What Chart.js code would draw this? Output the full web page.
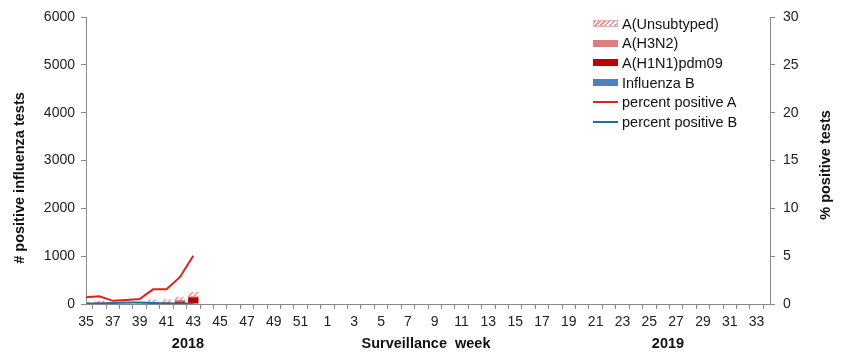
<!DOCTYPE html>
<html>
<head>
<meta charset="utf-8">
<script src="https://cdn.jsdelivr.net/npm/chart.js@4.4.1/dist/chart.umd.min.js"></script>
<style>
  html, body { margin: 0; padding: 0; background: #fff; }
  #wrap { position: relative; width: 849px; height: 362px; }
  #legend { position: absolute; left: 593px; top: 14px; font-family: "Liberation Sans", Arial, sans-serif; font-size: 14.5px; color: #111; }
  .row { height: 19.6px; display: flex; align-items: center; }
  .sw { width: 25px; margin-right: 4px; }
  .box { height: 7px; }
  .ln { height: 2px; }
</style>
</head>
<body>
<div id="wrap">
  <canvas id="myChart" width="849" height="362"></canvas>
  <div id="legend">
    <div class="row"><span class="sw box" style="background:repeating-linear-gradient(135deg,#e49a9a 0 1.5px,#fff 1.5px 3.5px);border:1px solid #e8b0b0;box-sizing:border-box"></span>A(Unsubtyped)</div>
    <div class="row"><span class="sw box" style="background:#e07c7c"></span>A(H3N2)</div>
    <div class="row"><span class="sw box" style="background:#c00000"></span>A(H1N1)pdm09</div>
    <div class="row"><span class="sw box" style="background:#4f81bd"></span>Influenza B</div>
    <div class="row"><span class="sw ln" style="background:#e0201c"></span>percent positive A</div>
    <div class="row"><span class="sw ln" style="background:#1f6ea6"></span>percent positive B</div>
  </div>
</div>
<script>
// weeks 35-52 of 2018, then 1-34 of 2019
let weeks = [];
for (let w = 35; w <= 52; w++) weeks.push(String(w));
for (let w = 1; w <= 34; w++) weeks.push(String(w));

// counts, weeks 35..43 (2018)
let fluB     = [10, 10, 10, 15, 15, 10, 10, 10, 10];
let h1n1     = [0, 0, 0, 0, 0, 5, 10, 40, 130];
let h3n2     = [15, 30, 15, 5, 5, 30, 25, 35, 20];
let unsub    = [25, 30, 15, 10, 10, 50, 50, 65, 90];
// percent positive
let pctA     = [0.7, 0.8, 0.33, 0.42, 0.52, 1.53, 1.53, 2.8, 5.05];
let pctB     = [0.05, 0.05, 0.1, 0.15, 0.15, 0.1, 0.05, 0.05, 0.05];

let leftTicks = [0, 1000, 2000, 3000, 4000, 5000, 6000];
let rightTicks = [0, 5, 10, 15, 20, 25, 30];

function pad(arr){
    let out = arr.slice();
    while (out.length < weeks.length) out.push(null);
    return out;
}

function hatch(){
    let c = document.createElement('canvas');
    c.width = 5; c.height = 5;
    let g = c.getContext('2d');
    g.fillStyle = '#fff';
    g.fillRect(0,0,5,5);
    g.strokeStyle = '#e08a8a';
    g.lineWidth = 1.3;
    g.beginPath();
    g.moveTo(-1,6); g.lineTo(6,-1);
    g.moveTo(-1,1); g.lineTo(1,-1);
    g.moveTo(4,6); g.lineTo(6,4);
    g.stroke();
    return g.createPattern(c, 'repeat');
}

const FONT = "'Liberation Sans', Arial, sans-serif";

let extraText = {
    id: 'extraText',
    afterDraw(chart){
        let ctx = chart.ctx;
        ctx.save();
        ctx.fillStyle = '#111';
        ctx.font = 'bold 14.5px ' + FONT;
        ctx.textAlign = 'center';
        ctx.textBaseline = 'middle';
        ctx.fillText('2018', 188, 344);
        ctx.fillText('Surveillance  week', 426, 344);
        ctx.fillText('2019', 668, 344);
        ctx.translate(20, 178);
        ctx.rotate(-Math.PI/2);
        ctx.fillText('# positive influenza tests', 0, 0);
        ctx.restore();
        ctx.save();
        ctx.fillStyle = '#111';
        ctx.font = 'bold 14.5px ' + FONT;
        ctx.textAlign = 'center';
        ctx.textBaseline = 'middle';
        ctx.translate(826, 165);
        ctx.rotate(-Math.PI/2);
        ctx.fillText('% positive tests', 0, 0);
        ctx.restore();
    }
};

let ctx = document.getElementById('myChart').getContext('2d');
let chart = new Chart(ctx, {
    type: 'bar',
    data: {
        labels: weeks,
        datasets: [
            { label: 'percent positive A', type: 'line', data: pad(pctA), yAxisID: 'y2', borderColor: '#e0201c', borderWidth: 2, pointRadius: 0, tension: 0, order: 0 },
            { label: 'percent positive B', type: 'line', data: pad(pctB), yAxisID: 'y2', borderColor: '#1f6ea6', borderWidth: 2, pointRadius: 0, tension: 0, order: 0 },
            { label: 'Influenza B', data: pad(fluB), backgroundColor: '#4f81bd', stack: 's', order: 1 },
            { label: 'A(H1N1)pdm09', data: pad(h1n1), backgroundColor: '#c00000', stack: 's', order: 1 },
            { label: 'A(H3N2)', data: pad(h3n2), backgroundColor: '#e07c7c', stack: 's', order: 1 },
            { label: 'A(Unsubtyped)', data: pad(unsub), backgroundColor: hatch(), stack: 's', order: 1 }
        ]
    },
    options: {
        responsive: false,
        animation: false,
        layout: { padding: { top: 17, right: 0, bottom: 0, left: 0 } },
        datasets: { bar: { categoryPercentage: 1, barPercentage: 0.78 } },
        plugins: { legend: { display: false }, tooltip: { enabled: false } },
        scales: {
            x: {
                stacked: true,
                offset: false,
                border: { color: '#888' },
                grid: { drawOnChartArea: false, color: '#888', tickLength: 5 },
                ticks: {
                    autoSkip: false, maxRotation: 0, color: '#222', padding: 5,
                    font: { family: FONT, size: 14 },
                    callback: (v, i) => i % 2 === 0 ? weeks[i] : ''
                },
                afterFit: s => { s.height = 58; }
            },
            y: {
                stacked: true,
                position: 'left',
                min: 0, max: 6000,
                afterBuildTicks: s => { s.ticks = leftTicks.map(v => ({ value: v })); },
                border: { color: '#888' },
                grid: { drawOnChartArea: false, color: '#888', tickLength: 5 },
                ticks: { color: '#222', padding: 6, font: { family: FONT, size: 14 }, callback: v => String(v) },
                afterFit: s => { s.width = 86; }
            },
            y2: {
                position: 'right',
                min: 0, max: 30,
                afterBuildTicks: s => { s.ticks = rightTicks.map(v => ({ value: v })); },
                border: { color: '#888' },
                grid: { drawOnChartArea: false, color: '#888', tickLength: 5 },
                ticks: { color: '#222', padding: 8, font: { family: FONT, size: 14 }, callback: v => String(v) },
                afterFit: s => { s.width = 79; }
            }
        }
    },
    plugins: [extraText]
});
</script>
</body>
</html>
